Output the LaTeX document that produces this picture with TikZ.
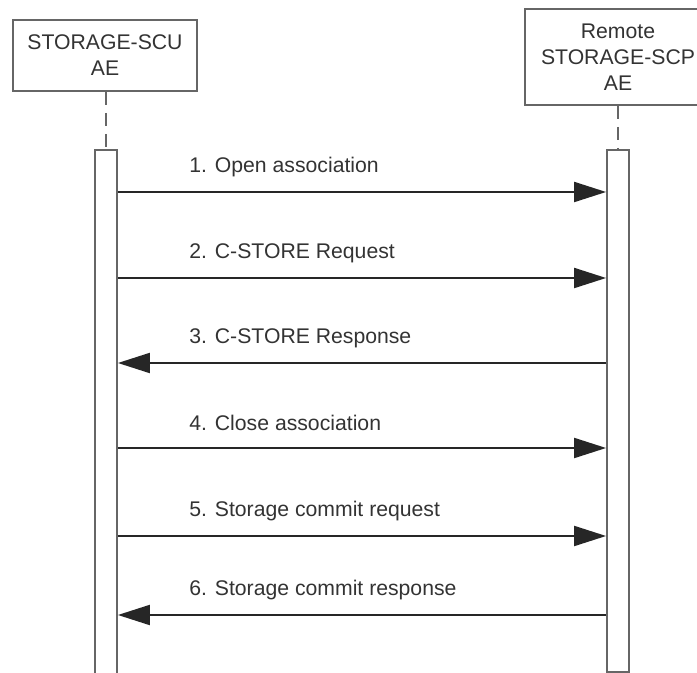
\documentclass[tikz,border=0pt]{standalone}
\usepackage{fontspec}
\setmainfont{Liberation Sans}
\usetikzlibrary{arrows.meta}

\begin{document}
\begin{tikzpicture}
	[x=0.5pt,y=-0.5pt,
	actor/.style={shape=rectangle,draw=black!60,line width=0.9pt,fill=white,align=center,
		inner sep=0pt,font=\fontsize{10.6}{13}\selectfont,text=black!80},
	bar/.style={shape=rectangle,draw=black!60,line width=0.9pt,fill=white,minimum width=11pt,inner sep=0pt},
	life/.style={draw=black!60,line width=0.9pt,dash pattern=on 6.5pt off 4pt},
	msg/.style={draw=black!85,line width=1pt,-{Triangle[length=16pt,width=10pt]}},
	lbl/.style={anchor=west,inner sep=0pt,font=\fontsize{10.6}{13}\selectfont,text=black!80}]
	\useasboundingbox (0,0) rectangle (697,673);

	% the two application entities
	\node [actor,minimum width=92pt,minimum height=35.5pt] (scu) at (105,55.5) {STORAGE-SCU\\AE};
	\node [actor,minimum width=93pt,minimum height=48pt] (scp) at (618,57) {Remote\\STORAGE-SCP\\AE};

	% activation bars
	\node [bar,minimum height=270pt] (scubar) at (106,420) {};
	\node [bar,minimum height=261pt] (scpbar) at (618,411) {};

	\draw [life] (scu.south -| scubar.north) -- (scubar.north);
	\draw [life] (scp.south -| scpbar.north) -- (scpbar.north);

	% messages
	\foreach \y/\from/\to/\txt in {
		192/scubar.east/scpbar.west/1. Open association,
		278/scubar.east/scpbar.west/2. C-STORE Request,
		363/scpbar.west/scubar.east/3. C-STORE Response,
		448/scubar.east/scpbar.west/4. Close association,
		536/scubar.east/scpbar.west/5. Storage commit request,
		615/scpbar.west/scubar.east/6. Storage commit response}
	{
		\draw [msg] (\from |- 0,\y) -- (\to |- 0,\y);
		\node [lbl] (m\y) at (189,\y-25) {\txt};
	}

\end{tikzpicture}
\end{document}
